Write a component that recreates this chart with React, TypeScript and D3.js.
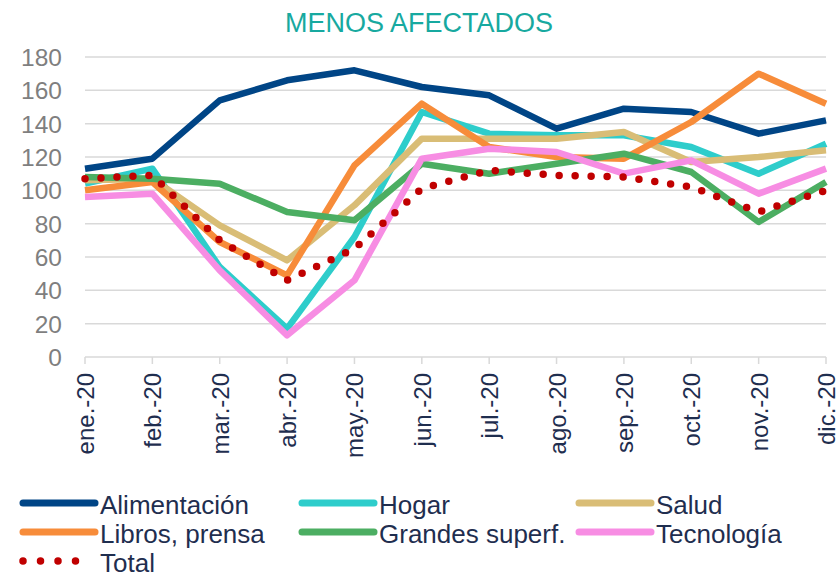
import * as d3 from 'd3';
import { useRef, useEffect } from 'react';

const months = ['ene.-20', 'feb.-20', 'mar.-20', 'abr.-20', 'may.-20', 'jun.-20', 'jul.-20', 'ago.-20', 'sep.-20', 'oct.-20', 'nov.-20', 'dic.-20'];
const yTicks = [0, 20, 40, 60, 80, 100, 120, 140, 160, 180];

const alimentacion = [113, 119, 154, 166, 172, 162, 157, 137, 149, 147, 134, 142];
const hogar = [104, 113, 54, 17, 72, 147, 134, 133, 133, 126, 110, 128];
const salud = [106, 107, 79, 58, 91, 131, 131, 131, 135, 117, 120, 124];
const libros = [100, 105, 69, 49, 115, 152, 126, 120, 119, 141, 170, 152];
const grandes = [108, 107, 104, 87, 82, 116, 110, 116, 122, 111, 81, 105];
const tecnologia = [96, 98, 52, 13, 46, 119, 125, 123, 110, 118, 98, 113];
const total = [107, 109, 70, 46, 65, 101, 112, 109, 108, 102, 87, 100];

const series = [
    { name: 'Alimentación', values: alimentacion, color: '#004586' },
    { name: 'Hogar', values: hogar, color: '#2ecdcb' },
    { name: 'Salud', values: salud, color: '#d9bd76' },
    { name: 'Libros, prensa', values: libros, color: '#f78c3a' },
    { name: 'Grandes superf.', values: grandes, color: '#4cae62' },
    { name: 'Tecnología', values: tecnologia, color: '#f78de3' },
];

const font = 'Liberation Sans, Arial, sans-serif';

export default function App() {
    const svgRef = useRef<SVGSVGElement>(null);

    useEffect(() => {
        if (!svgRef.current) return;
        const svg = d3.select(svgRef.current);
        svg.selectAll('*').remove();

        const left = 85, right = 826, top = 57, bottom = 357;

        const x = d3.scalePoint().domain(months).range([left, right]);
        const y = d3.scaleLinear().domain([0, 180]).range([bottom, top]);

        // title
        svg.append('text')
            .attr('x', 419).attr('y', 32)
            .attr('text-anchor', 'middle')
            .attr('font-family', font).attr('font-size', 27)
            .attr('fill', '#17a9a0')
            .text('MENOS AFECTADOS');

        // grid
        svg.append('g').selectAll('line')
            .data(yTicks)
            .enter().append('line')
            .attr('x1', left).attr('x2', right)
            .attr('y1', d => y(d)).attr('y2', d => y(d))
            .attr('stroke', '#d9d9d9').attr('stroke-width', 1.5);

        // y labels
        svg.append('g').selectAll('text')
            .data(yTicks)
            .enter().append('text')
            .attr('x', 62).attr('y', d => y(d) + 9)
            .attr('text-anchor', 'end')
            .attr('font-family', font).attr('font-size', 24.5)
            .attr('fill', '#7f7f7f')
            .text(d => d);

        // x ticks
        svg.append('g').selectAll('line')
            .data(months)
            .enter().append('line')
            .attr('x1', d => x(d) || 0).attr('x2', d => x(d) || 0)
            .attr('y1', bottom).attr('y2', bottom + 7)
            .attr('stroke', '#d9d9d9').attr('stroke-width', 1.5);

        // x labels
        svg.append('g').selectAll('text')
            .data(months)
            .enter().append('text')
            .attr('transform', d => `translate(${(x(d) || 0) + 9},${bottom + 16}) rotate(-90)`)
            .attr('text-anchor', 'end')
            .attr('font-family', font).attr('font-size', 24)
            .attr('fill', '#1f2e4f')
            .text(d => d);

        const line = d3.line<number>()
            .x((_, i) => x(months[i]) || 0)
            .y(d => y(d));

        const g = svg.append('g');
        series.forEach(s => {
            g.append('path')
                .attr('d', line(s.values))
                .attr('fill', 'none')
                .attr('stroke', s.color)
                .attr('stroke-width', 6.5)
                .attr('stroke-linejoin', 'round');
        });
        g.append('path')
            .attr('d', line(total))
            .attr('fill', 'none')
            .attr('stroke', '#c00000')
            .attr('stroke-width', 7.5)
            .attr('stroke-linecap', 'round')
            .attr('stroke-dasharray', '0 16');

        // legend
        const legendItems = [...series.map(s => ({ name: s.name, color: s.color, dotted: false })),
            { name: 'Total', color: '#c00000', dotted: true }];
        const colX = [22, 301, 578];
        const rowY = [503, 532, 561];
        legendItems.forEach((it, i) => {
            const cx = colX[i % 3];
            const cy = rowY[Math.floor(i / 3)];
            const lg = svg.append('g');
            if (it.dotted) {
                lg.append('line')
                    .attr('x1', cx + 1).attr('x2', cx + 71)
                    .attr('y1', cy).attr('y2', cy)
                    .attr('stroke', it.color).attr('stroke-width', 7.5)
                    .attr('stroke-linecap', 'round')
                    .attr('stroke-dasharray', '0 17.5');
            } else {
                lg.append('line')
                    .attr('x1', cx + 1).attr('x2', cx + 73)
                    .attr('y1', cy).attr('y2', cy)
                    .attr('stroke', it.color).attr('stroke-width', 7)
                    .attr('stroke-linecap', 'round');
            }
            lg.append('text')
                .attr('x', cx + 78).attr('y', cy + 11)
                .attr('font-family', font).attr('font-size', 26)
                .attr('fill', '#1f2e4f')
                .text(it.name);
        });
    }, []);

    return <svg ref={svgRef} width={839} height={572} style={{ position: 'absolute', left: 0, top: 0 }} />;
}
